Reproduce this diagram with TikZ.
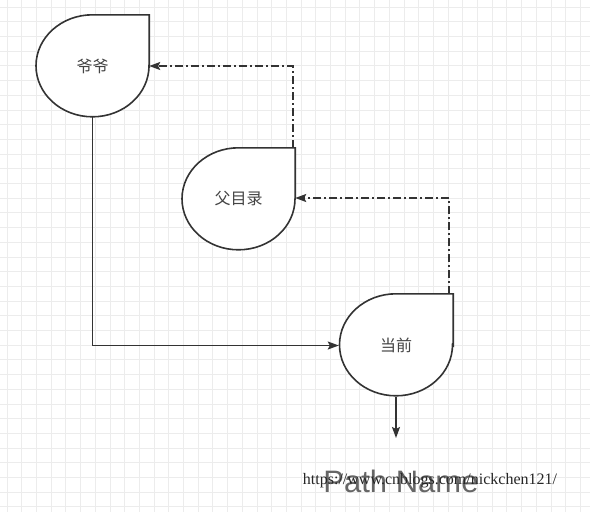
\documentclass[tikz,border=0pt]{standalone}
\usepackage{fontspec}
\setmainfont{Liberation Sans}
\newfontfamily\cjk{Noto Sans CJK SC}
\newfontfamily\wmfont{Liberation Serif}
\usetikzlibrary{arrows.meta}
\pgfdeclarelayer{gridlayer}
\pgfdeclarelayer{shapelayer}
\pgfsetlayers{gridlayer,shapelayer,main}
\definecolor{gridc}{HTML}{ECECEC}
\definecolor{linec}{HTML}{333333}
\definecolor{txtc}{HTML}{444444}
\tikzset{
  dropnode/.style={minimum width=113pt, minimum height=102pt, inner sep=0pt, font=\cjk\fontsize{16}{16}\selectfont, text=txtc},
  dropline/.style={draw=linec, line width=1.6pt, fill=white},
  solidarrow/.style={draw=linec, line width=1.5pt, -{Stealth[length=11pt,width=8pt,inset=2pt]}},
  dasharrow/.style={draw=linec, line width=1.5pt, dash pattern=on 8pt off 3pt on 2pt off 3pt, -{Stealth[length=11pt,width=8pt,inset=2pt]}},
}
\begin{document}
\begin{tikzpicture}[x=1pt,y=-1pt]
\useasboundingbox (0,0) rectangle (590,512);
\begin{pgfonlayer}{gridlayer}
  \fill[white] (0,0) rectangle (590,512);
  \foreach \i in {0,...,40} {
    \draw[gridc, line width=0.8pt] ({7+14.7*\i},0) -- ({7+14.7*\i},512);
  }
  \foreach \i in {0,...,35} {
    \draw[gridc, line width=0.8pt] (0,{7+14.7*\i}) -- (590,{7+14.7*\i});
  }
\end{pgfonlayer}

\node[dropnode] (a) at (92.5,66) {爷爷};
\node[dropnode, minimum height=100pt] (b) at (238.5,198) {父目录};
\node[dropnode, minimum width=114pt, minimum height=103pt] (c) at (396,345.5) {当前};

\begin{pgfonlayer}{shapelayer}
  \foreach \n in {a,b,c} {
    \draw[dropline] (\n.east) -- (\n.north east) -- (\n.north)
      arc[start angle=90, end angle=270, x radius=56.5pt, y radius=51pt]
      arc[start angle=270, end angle=360, x radius=56.5pt, y radius=51pt] -- cycle;
  }
\end{pgfonlayer}

\coordinate (pathtip) at (396,438);
\draw[solidarrow] (a.south) |- (c.west);
\draw[dasharrow] ([xshift=-2pt]b.north east) |- (a.east);
\draw[dasharrow] ([xshift=-4pt]c.north east) |- (b.east);
\draw[solidarrow] (c.south) -- (pathtip);

\node[anchor=base, inner sep=0pt, text=black!60, font=\fontsize{31}{31}\selectfont] (pn) at (401,492) {Path Name};
\node[anchor=base, inner sep=0pt, text=black!85, font=\wmfont\fontsize{16}{16}\selectfont] (wm) at (430,484) {https://www.cnblogs.com/nickchen121/};
\end{tikzpicture}
\end{document}
